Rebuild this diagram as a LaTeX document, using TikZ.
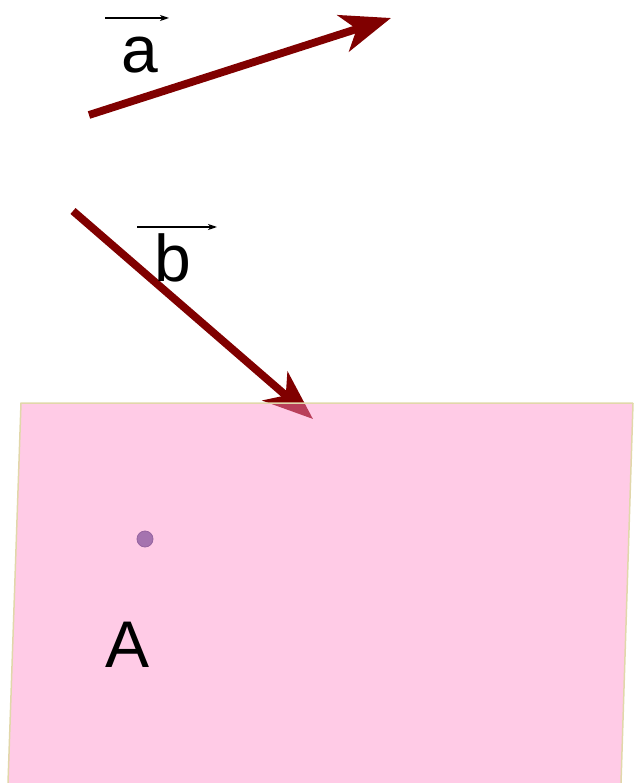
\documentclass[tikz,border=0pt]{standalone}
\usepackage{fontspec}
\setmainfont{Liberation Sans}
\usetikzlibrary{arrows.meta}
\definecolor{vecred}{RGB}{128,0,0}
\definecolor{planepink}{RGB}{255,140,200}
\definecolor{planeedge}{RGB}{225,215,170}
\definecolor{dotfill}{RGB}{165,115,175}
\definecolor{dotedge}{RGB}{150,100,160}
\tikzset{
  bigvec/.style={draw=vecred, line width=7.8pt,
    -{Stealth[length=50pt,width=38pt,inset=14pt]}},
  smallvec/.style={draw=black, line width=1.3pt,
    -{Stealth[length=9pt,width=6pt,inset=2.5pt]}},
  letter/.style={inner sep=0pt, anchor=base, font=\fontsize{66}{70}\selectfont},
}
\begin{document}
\begin{tikzpicture}[x=1pt,y=-1pt]
\useasboundingbox (0,0) rectangle (633,783);
% vectors
\coordinate (a0) at (89,115);
\coordinate (a1) at (391,18);
\coordinate (b0) at (73,211);
\coordinate (b1) at (313,419);
\draw[bigvec] (a0) -- (a1);
\draw[bigvec] (b0) -- (b1);
% labels
\node[letter] (la) at (140,73) {a};
\node[letter] (lb) at (173,281) {b};
\coordinate (va0) at (105,18);
\coordinate (va1) at (169,18);
\coordinate (vb0) at (137,227);
\coordinate (vb1) at (217,227);
\draw[smallvec] (va0) -- (va1);
\draw[smallvec] (vb0) -- (vb1);
% plane
\coordinate (p1) at (21,403);
\coordinate (p2) at (633,403);
\coordinate (p3) at (621,783);
\coordinate (p4) at (8,783);
\fill[planepink, fill opacity=0.45] (p1) -- (p2) -- (p3) -- (p4) -- cycle;
\draw[planeedge, line width=1.5pt] (p4) -- (p1) -- (p2);
\draw[planeedge, line width=1.5pt] (p2) -- (p3);
% point A
\node[circle, fill=dotfill, draw=dotedge, line width=0.8pt, minimum size=16pt, inner sep=0pt] (ptA) at (145,539) {};
\node[letter] (lA) at (128,667) {A};
\end{tikzpicture}
\end{document}
